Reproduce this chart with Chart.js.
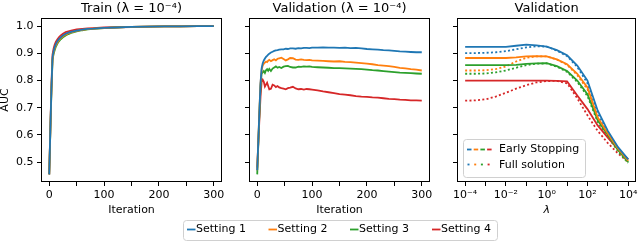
<!DOCTYPE html>
<html>
<head>
<meta charset="utf-8">
<script src="https://cdn.jsdelivr.net/npm/chart.js@4.4.1/dist/chart.umd.min.js"></script>
<style>
  body { margin: 0; background: #fff; }
  #wrap { position: relative; width: 640px; height: 241px; }
  #wrap canvas { position: absolute; left: 0; top: 0; }
</style>
</head>
<body>
<div id="wrap">
  <canvas id="train" width="640" height="241"></canvas>
  <canvas id="valid" width="640" height="241"></canvas>
  <canvas id="lam" width="640" height="241"></canvas>
</div>
<script>
const colors = ['#1f77b4', '#ff7f0e', '#2ca02c', '#d62728'];
const settingNames = ['Setting 1', 'Setting 2', 'Setting 3', 'Setting 4'];
const yTicks = [0.5, 0.6, 0.7, 0.8, 0.9, 1.0];
const iterTicks = [0, 50, 100, 150, 200, 250, 300];
const lamTicks = [1e-4, 1e-3, 1e-2, 1e-1, 1, 10, 100, 1000, 10000];

// Train (lambda = 1e-4)
const iterTrain = [0, 2, 4, 6, 8, 10, 12, 15, 18, 21, 25, 30, 35, 40, 50, 60, 70, 80, 100, 120, 150, 180, 210, 240, 270, 300];
const trainS1 = [0.455, 0.615, 0.77, 0.885, 0.908, 0.923, 0.934, 0.945, 0.953, 0.959, 0.966, 0.972, 0.976, 0.979, 0.984, 0.987, 0.990, 0.991, 0.994, 0.995, 0.997, 0.998, 0.999, 0.9995, 0.9998, 1.0];
const trainS2 = [0.455, 0.612, 0.765, 0.88, 0.903, 0.918, 0.929, 0.940, 0.949, 0.956, 0.963, 0.969, 0.974, 0.977, 0.983, 0.986, 0.989, 0.991, 0.993, 0.995, 0.997, 0.998, 0.999, 0.9995, 0.9998, 1.0];
const trainS3 = [0.455, 0.61, 0.76, 0.875, 0.898, 0.912, 0.924, 0.936, 0.945, 0.952, 0.959, 0.966, 0.971, 0.975, 0.981, 0.985, 0.988, 0.990, 0.993, 0.995, 0.997, 0.998, 0.999, 0.9995, 0.9998, 1.0];
const trainS4 = [0.455, 0.62, 0.78, 0.895, 0.918, 0.932, 0.942, 0.952, 0.960, 0.966, 0.972, 0.978, 0.981, 0.984, 0.988, 0.990, 0.992, 0.993, 0.995, 0.996, 0.997, 0.998, 0.999, 0.9995, 0.9998, 1.0];

// Validation (lambda = 1e-4)
const iterVal = [0, 2, 4, 6, 8, 10, 12, 14, 16, 18, 20, 22, 25, 28, 31, 34, 37, 40, 44, 48, 52, 56, 60, 65, 70, 75, 80, 85, 90, 95, 100,
  110, 120, 130, 140, 150, 160, 170, 180, 190, 200, 210, 220, 230, 240, 250, 260, 270, 280, 290, 300];
const valS1 = [0.47, 0.58, 0.69, 0.79, 0.845, 0.864, 0.874, 0.881, 0.887, 0.891, 0.895, 0.899, 0.903, 0.906, 0.909, 0.911, 0.912, 0.914,
  0.915, 0.915, 0.917, 0.916, 0.918, 0.918, 0.917, 0.919, 0.918, 0.920, 0.920, 0.919, 0.921,
  0.921, 0.922, 0.921, 0.921, 0.920, 0.921, 0.919, 0.920, 0.918, 0.916, 0.915, 0.914, 0.912, 0.911, 0.909, 0.907, 0.906, 0.905, 0.904, 0.904];
const valS2 = [0.47, 0.58, 0.69, 0.79, 0.838, 0.855, 0.862, 0.866, 0.870, 0.868, 0.873, 0.876, 0.871, 0.875, 0.878, 0.874, 0.880, 0.882,
  0.884, 0.879, 0.874, 0.878, 0.883, 0.882, 0.877, 0.876, 0.878, 0.876, 0.875, 0.876, 0.874,
  0.873, 0.872, 0.871, 0.870, 0.871, 0.869, 0.868, 0.866, 0.864, 0.862, 0.860, 0.857, 0.855, 0.853, 0.850, 0.847, 0.845, 0.842, 0.840, 0.837];
const valS3 = [0.455, 0.57, 0.68, 0.78, 0.825, 0.830, 0.835, 0.828, 0.838, 0.842, 0.836, 0.843, 0.835, 0.844, 0.848, 0.852, 0.847, 0.850,
  0.846, 0.851, 0.853, 0.854, 0.850, 0.848, 0.848, 0.851, 0.850, 0.852, 0.851, 0.852, 0.850,
  0.849, 0.848, 0.847, 0.846, 0.846, 0.845, 0.844, 0.843, 0.842, 0.840, 0.838, 0.837, 0.835, 0.833, 0.831, 0.829, 0.828, 0.827, 0.826, 0.825];
const valS4 = [0.48, 0.57, 0.66, 0.74, 0.795, 0.803, 0.795, 0.778, 0.785, 0.792, 0.780, 0.768, 0.770, 0.785, 0.782, 0.776, 0.780, 0.775,
  0.772, 0.770, 0.768, 0.772, 0.774, 0.777, 0.771, 0.768, 0.769, 0.767, 0.769, 0.768, 0.767,
  0.764, 0.760, 0.757, 0.754, 0.750, 0.748, 0.746, 0.743, 0.741, 0.740, 0.738, 0.737, 0.735, 0.733, 0.732, 0.730, 0.729, 0.727, 0.727, 0.726];

// Validation vs lambda
const lambdas = [1e-4, 3.16e-4, 1e-3, 3.16e-3, 1e-2, 3.16e-2, 0.1, 0.316, 1, 3.16, 10, 31.6, 100, 316, 1000, 3160, 10000];
const esS1 = [0.924, 0.924, 0.924, 0.924, 0.924, 0.928, 0.932, 0.929, 0.925, 0.912, 0.893, 0.855, 0.80, 0.69, 0.615, 0.555, 0.51];
const esS2 = [0.883, 0.883, 0.883, 0.883, 0.883, 0.885, 0.889, 0.890, 0.889, 0.878, 0.86, 0.825, 0.775, 0.665, 0.605, 0.55, 0.505];
const esS3 = [0.857, 0.857, 0.857, 0.857, 0.857, 0.858, 0.861, 0.863, 0.864, 0.853, 0.835, 0.80, 0.75, 0.655, 0.60, 0.545, 0.50];
const esS4 = [0.80, 0.80, 0.80, 0.80, 0.80, 0.80, 0.80, 0.80, 0.80, 0.799, 0.797, 0.745, 0.695, 0.635, 0.59, 0.548, 0.51];
const fullS1 = [0.901, 0.901, 0.902, 0.904, 0.908, 0.915, 0.922, 0.926, 0.925, 0.910, 0.890, 0.85, 0.79, 0.68, 0.61, 0.55, 0.505];
const fullS2 = [0.837, 0.837, 0.838, 0.842, 0.852, 0.87, 0.884, 0.889, 0.889, 0.877, 0.858, 0.82, 0.768, 0.655, 0.598, 0.545, 0.50];
const fullS3 = [0.825, 0.825, 0.826, 0.83, 0.837, 0.847, 0.857, 0.862, 0.863, 0.851, 0.832, 0.795, 0.743, 0.648, 0.594, 0.54, 0.497];
const fullS4 = [0.726, 0.727, 0.731, 0.741, 0.755, 0.770, 0.783, 0.793, 0.798, 0.799, 0.79, 0.735, 0.672, 0.615, 0.57, 0.532, 0.50];

Chart.defaults.font.family = '"DejaVu Sans", sans-serif';
Chart.defaults.font.size = 11;
Chart.defaults.color = '#000';

const FONT = '"DejaVu Sans", sans-serif';

function toXY(xs, ys) {
  return xs.map((x, i) => ({ x: x, y: ys[i] }));
}

function sup(n) {
  const map = { '-': '\u207B', '0': '\u2070', '1': '\u00B9', '2': '\u00B2', '3': '\u00B3', '4': '\u2074',
    '5': '\u2075', '6': '\u2076', '7': '\u2077', '8': '\u2078', '9': '\u2079' };
  return String(n).split('').map(c => map[c]).join('');
}

// black box round each panel (matplotlib spines)
const framePlugin = {
  id: 'frame',
  afterDatasetsDraw(chart) {
    const { ctx, chartArea: a } = chart;
    ctx.save();
    ctx.strokeStyle = '#000';
    ctx.lineWidth = 1;
    const l = Math.round(a.left) + 0.5, t = Math.round(a.top) + 0.5;
    const r = Math.round(a.right) - 0.5, b = Math.round(a.bottom) - 0.5;
    ctx.strokeRect(l, t, r - l, b - t);
    ctx.restore();
  }
};

function legendBox(ctx, x, y, w, h) {
  ctx.beginPath();
  ctx.roundRect(x, y, w, h, 3);
  ctx.fillStyle = 'rgba(255,255,255,0.8)';
  ctx.fill();
  ctx.strokeStyle = '#d0d0d0';
  ctx.lineWidth = 1;
  ctx.stroke();
}

// legend inside the lambda panel
const lamLegend = {
  id: 'lamLegend',
  afterDraw(chart) {
    const ctx = chart.ctx;
    ctx.save();
    legendBox(ctx, 463.5, 139.5, 122, 38);
    colors.forEach((c, i) => {
      ctx.strokeStyle = c;
      ctx.lineWidth = 1.8;
      ctx.beginPath();
      ctx.moveTo(467 + i * 6.7, 149.5);
      ctx.lineTo(471.5 + i * 6.7, 149.5);
      ctx.stroke();
      ctx.beginPath();
      ctx.moveTo(467.5 + i * 6.7, 164.5);
      ctx.lineTo(469.5 + i * 6.7, 164.5);
      ctx.stroke();
    });
    ctx.fillStyle = '#000';
    ctx.font = '11px ' + FONT;
    ctx.textBaseline = 'middle';
    ctx.textAlign = 'left';
    ctx.fillText('Early Stopping', 499, 149.5);
    ctx.fillText('Full solution', 499, 165);
    ctx.restore();
  }
};

// shared legend under the panels
const settingsLegend = {
  id: 'settingsLegend',
  afterDraw(chart) {
    const ctx = chart.ctx;
    const handleX = [187, 268.5, 350, 432];
    ctx.save();
    legendBox(ctx, 183.5, 220.5, 314, 20);
    ctx.font = '11px ' + FONT;
    ctx.textBaseline = 'middle';
    ctx.textAlign = 'left';
    settingNames.forEach((name, i) => {
      ctx.strokeStyle = colors[i];
      ctx.lineWidth = 1.8;
      ctx.beginPath();
      ctx.moveTo(handleX[i], 229.5);
      ctx.lineTo(handleX[i] + 8.5, 229.5);
      ctx.stroke();
      ctx.fillStyle = '#000';
      ctx.fillText(name, handleX[i] + 9, 229.5);
    });
    ctx.restore();
  }
};

function yScale(labels, width) {
  return {
    type: 'linear',
    min: 0.427,
    max: 1.03,
    afterBuildTicks: s => { s.ticks = yTicks.map(v => ({ value: v })); },
    afterFit: s => { s.width = width; },
    grid: { drawOnChartArea: false, tickLength: 4, color: '#000' },
    border: { display: false },
    ticks: { padding: 3.5, callback: v => labels ? v.toFixed(1) : '' },
    title: { display: labels, text: 'AUC', font: { size: 11, lineHeight: 1 }, padding: 0 }
  };
}

function xIterScale() {
  return {
    type: 'linear',
    min: -15,
    max: 315,
    afterBuildTicks: s => { s.ticks = iterTicks.map(v => ({ value: v })); },
    afterFit: s => { s.height = 59; },
    grid: { drawOnChartArea: false, tickLength: 4, color: '#000' },
    border: { display: false },
    ticks: { padding: 2.4, maxRotation: 0, autoSkip: false, callback: v => v % 100 === 0 ? String(v) : '' },
    title: { display: true, text: 'Iteration', font: { size: 11 }, padding: { top: 0, bottom: 24.7 } }
  };
}

function panelOptions(title, pad, xScale, yLabels, yWidth) {
  return {
    responsive: false,
    animation: false,
    events: [],
    layout: { padding: pad },
    elements: { point: { radius: 0 }, line: { tension: 0, borderWidth: 1.8 } },
    plugins: {
      legend: { display: false },
      tooltip: { enabled: false },
      title: {
        display: true, text: title, fullSize: false, color: '#000',
        font: { size: 13, weight: 'normal' }, padding: { top: 0.5, bottom: 1.9 }
      }
    },
    scales: { x: xScale, y: yScale(yLabels, yWidth) }
  };
}

function lineSet(xs, ys, color, dash) {
  return {
    data: toXY(xs, ys),
    borderColor: color,
    backgroundColor: color,
    borderDash: dash || [],
    fill: false
  };
}

// Train panel
const trainSeries = [trainS1, trainS2, trainS3, trainS4];
new Chart(document.getElementById('train'), {
  type: 'line',
  data: { datasets: trainSeries.map((s, i) => lineSet(iterTrain, s, colors[i])) },
  options: panelOptions('Train (\u03BB = 10' + sup(-4) + ')', { left: 0, right: 418, top: 0, bottom: 0 }, xIterScale(), true, 41),
  plugins: [framePlugin]
});

// Validation panel
const valSeries = [valS1, valS2, valS3, valS4];
new Chart(document.getElementById('valid'), {
  type: 'line',
  data: { datasets: valSeries.map((s, i) => lineSet(iterVal, s, colors[i])) },
  options: panelOptions('Validation (\u03BB = 10' + sup(-4) + ')', { left: 239, right: 210, top: 0, bottom: 0 }, xIterScale(), false, 10),
  plugins: [framePlugin, settingsLegend]
});

// Validation vs lambda panel
const esSeries = [esS1, esS2, esS3, esS4];
const fullSeries = [fullS1, fullS2, fullS3, fullS4];
const lamSets = [];
esSeries.forEach((s, i) => lamSets.push(lineSet(lambdas, s, colors[i])));
fullSeries.forEach((s, i) => lamSets.push(lineSet(lambdas, s, colors[i], [2, 2.3])));

new Chart(document.getElementById('lam'), {
  type: 'line',
  data: { datasets: lamSets },
  options: panelOptions('Validation', { left: 447, right: 1, top: 0, bottom: 0 }, {
    type: 'logarithmic',
    min: 3.98e-5,
    max: 2.512e4,
    afterBuildTicks: s => { s.ticks = lamTicks.map(v => ({ value: v })); },
    afterFit: s => { s.height = 59; },
    grid: { drawOnChartArea: false, tickLength: 4, color: '#000' },
    border: { display: false },
    ticks: {
      padding: 2.4, maxRotation: 0, autoSkip: false,
      callback: v => {
        const e = Math.round(Math.log10(v));
        return e % 2 === 0 ? '10' + sup(e) : '';
      }
    },
    title: { display: true, text: '\u03BB', font: { size: 11, style: 'italic' }, padding: { top: 0, bottom: 24.7 } }
  }, false, 10),
  plugins: [framePlugin, lamLegend]
});
</script>
</body>
</html>
